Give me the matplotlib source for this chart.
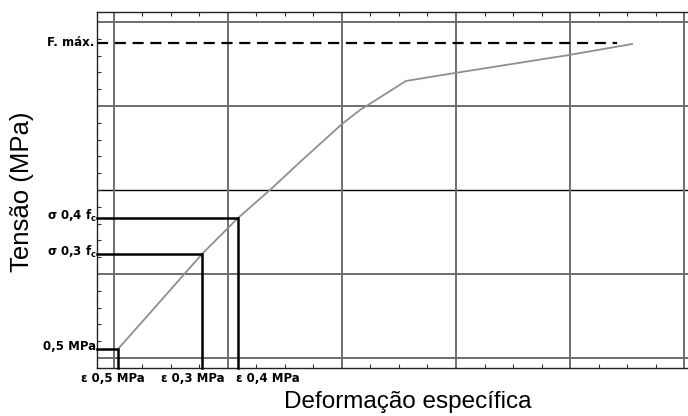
import matplotlib.pyplot as plt
from matplotlib.ticker import MultipleLocator
import matplotlib.transforms as mtransforms

# Stress-strain curve (arbitrary units, grid spacing = 1)
strain = [1.035, 1.316, 1.772, 2.088, 2.368, 2.632, 3.000, 3.158, 3.561, 3.991, 4.991, 5.544]
stress = [1.107, 1.536, 2.238, 2.667, 3.000, 3.333, 3.786, 3.952, 4.298, 4.393, 4.607, 4.738]

# Reference levels read on the curve
level_names = ['0,5 MPa', r'σ 0,3 f$_\mathbf{c}$', r'σ 0,4 f$_\mathbf{c}$']
level_strain = [1.035, 1.772, 2.088]
level_stress = [1.107, 2.238, 2.667]
strain_names = ['ε 0,5 MPa', 'ε 0,3 MPa', 'ε 0,4 MPa']
strain_label_x = [0.991, 1.693, 2.351]

f_max = 4.75
f_max_end = 5.41

plt.rcParams['font.family'] = ['Liberation Sans', 'DejaVu Sans']
plt.rcParams['mathtext.fontset'] = 'dejavusans'

fig = plt.figure(figsize=(6.88, 4.16), dpi=100)
ax = fig.add_axes([97 / 688, 48 / 416, 591 / 688, 356 / 416])
ax.set_xlim(0.851, 6.035)
ax.set_ylim(0.881, 5.119)

# grid (middle horizontal line is thinner and black)
ax.set_xticks([1, 2, 3, 4, 5, 6])
ax.set_yticks([1, 2, 4, 5])
ax.xaxis.set_minor_locator(MultipleLocator(0.25))
ax.yaxis.set_minor_locator(MultipleLocator(0.2))
ax.grid(True, which='major', color='#6e6e6e', linewidth=1.4)
ax.axhline(3, color='black', linewidth=1.0, zorder=1)
ax.set_xticklabels([])
ax.set_yticklabels([])
ax.tick_params(which='major', length=0)
ax.tick_params(which='minor', direction='in', length=3, width=0.8,
               top=True, bottom=True, left=True, right=False, color='#333333')
ax.spines['right'].set_visible(False)
for s in ['left', 'top', 'bottom']:
    ax.spines[s].set_linewidth(1.0)
    ax.spines[s].set_color('#222222')

small = dict(fontsize=8.5, fontweight='bold', family='DejaVu Sans')

# curve
ax.plot(strain, stress, color='#8f8f8f', linewidth=1.3, zorder=3)

# F max dashed line
ylab = mtransforms.blended_transform_factory(ax.transAxes, ax.transData)
ax.plot([0.851, f_max_end], [f_max, f_max], color='black', linewidth=1.6,
        linestyle=(0, (5, 3)), zorder=4, clip_on=False)
ax.text(-0.004, f_max, 'F. máx.', transform=ylab, ha='right', va='center', **small)

# level boxes
for name, ex, sy in zip(level_names, level_strain, level_stress):
    ax.plot([0.851, ex, ex], [sy, sy, 0.881], color='black', linewidth=1.8,
            zorder=5, solid_joinstyle='miter', clip_on=False)
    ax.text(-0.001, sy + 0.03, name, transform=ylab, ha='right', va='center', **small)

xlab = mtransforms.blended_transform_factory(ax.transData, ax.transAxes)
for name, lx in zip(strain_names, strain_label_x):
    ax.text(lx, -0.03, name, transform=xlab, ha='center', va='center', **small)

fig.text(408 / 688, 1 - 402 / 416, 'Deformação específica', ha='center', va='center', fontsize=17.5)
fig.text(22 / 688, 1 - 192 / 416, 'Tensão (MPa)', ha='center', va='center',
         rotation=90, fontsize=18.5)

fig.savefig('out.png', dpi=100)
